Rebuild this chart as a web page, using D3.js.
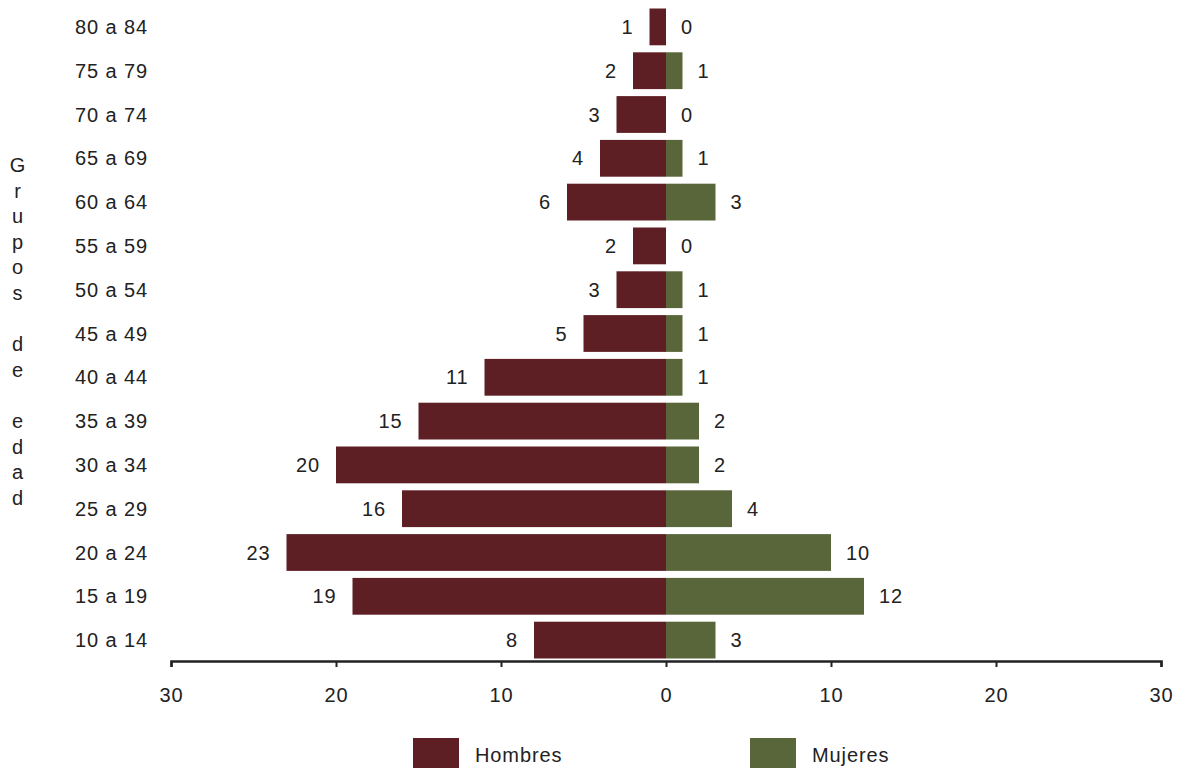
<!DOCTYPE html>
<html>
<head>
<meta charset="utf-8">
<script src="https://cdn.jsdelivr.net/npm/d3@7"></script>
<style>
  html, body { margin: 0; padding: 0; background: #fff; }
  svg { display: block; }
  text { font-family: "Liberation Sans", Arial, Helvetica, sans-serif; fill: #222; letter-spacing: 0.9px; }
</style>
</head>
<body>
<svg id="chart" width="1179" height="768"></svg>
<script>
const ageGroups = ["80 a 84","75 a 79","70 a 74","65 a 69","60 a 64","55 a 59","50 a 54","45 a 49","40 a 44","35 a 39","30 a 34","25 a 29","20 a 24","15 a 19","10 a 14"];
const hombres = [1,2,3,4,6,2,3,5,11,15,20,16,23,19,8];
const mujeres = [0,1,0,1,3,0,1,1,1,2,2,4,10,12,3];
const xTicks = [-30,-20,-10,0,10,20,30];
const seriesNames = ["Hombres","Mujeres"];
const seriesColors = ["#5e1f24","#586639"];
const axisTitle = "Grupos de edad";

const svg = d3.select("#chart");
const fs = 20;

const x = d3.scaleLinear().domain([-30, 30]).range([171, 1161]);
const y = d3.scaleBand().domain(ageGroups).range([5, 662]).paddingInner(0.16).paddingOuter(0.08);

// Bars
const g = svg.append("g");
g.selectAll("rect.h").data(ageGroups).join("rect")
  .attr("class","h")
  .attr("x", (d,i) => x(-hombres[i]))
  .attr("width", (d,i) => x(0) - x(-hombres[i]))
  .attr("y", d => y(d))
  .attr("height", y.bandwidth())
  .attr("fill", seriesColors[0]);

g.selectAll("rect.m").data(ageGroups).join("rect")
  .attr("class","m")
  .attr("x", x(0))
  .attr("width", (d,i) => x(mujeres[i]) - x(0))
  .attr("y", d => y(d))
  .attr("height", y.bandwidth())
  .attr("fill", seriesColors[1]);

// Value labels
g.selectAll("text.hl").data(ageGroups).join("text")
  .attr("class","hl")
  .attr("x", (d,i) => x(-hombres[i]) - 16)
  .attr("y", d => y(d) + y.bandwidth()/2)
  .attr("dy", "0.35em")
  .attr("text-anchor","end")
  .attr("font-size", fs)
  .text((d,i) => hombres[i]);

g.selectAll("text.ml").data(ageGroups).join("text")
  .attr("class","ml")
  .attr("x", (d,i) => x(mujeres[i]) + 15)
  .attr("y", d => y(d) + y.bandwidth()/2)
  .attr("dy", "0.35em")
  .attr("text-anchor","start")
  .attr("font-size", fs)
  .text((d,i) => mujeres[i]);

// Category labels
g.selectAll("text.cat").data(ageGroups).join("text")
  .attr("class","cat")
  .attr("x", 148)
  .attr("y", d => y(d) + y.bandwidth()/2)
  .attr("dy", "0.35em")
  .attr("text-anchor","end")
  .attr("font-size", fs)
  .text(d => d);

// X axis
const xAxis = d3.axisBottom(x).tickValues(xTicks).tickFormat(d => Math.abs(d)).tickSize(6).tickSizeOuter(6).tickPadding(21);
const ax = svg.append("g").attr("transform","translate(0,661)").call(xAxis);
ax.select(".domain").attr("stroke","#222").attr("stroke-width",2.5);
ax.selectAll(".tick line").attr("stroke","#222").attr("stroke-width",2);
ax.selectAll(".tick text").attr("font-size", fs).attr("fill","#222")
  .style("font-family","'Liberation Sans', Arial, sans-serif");

// Stacked vertical axis title
const letters = axisTitle.split("");
svg.append("g").selectAll("text").data(letters).join("text")
  .attr("x", 18)
  .attr("y", (d,i) => 172 + i*25.6)
  .attr("text-anchor","middle")
  .attr("font-size", fs)
  .text(d => d);

// Legend
const legendX = [413, 750];
const lg = svg.append("g");
lg.selectAll("rect").data(seriesNames).join("rect")
  .attr("x", (d,i) => legendX[i])
  .attr("y", 738)
  .attr("width", 46)
  .attr("height", 40)
  .attr("fill", (d,i) => seriesColors[i]);
lg.selectAll("text").data(seriesNames).join("text")
  .attr("x", (d,i) => legendX[i] + 62)
  .attr("y", 762)
  .attr("font-size", fs)
  .text(d => d);
</script>
</body>
</html>
